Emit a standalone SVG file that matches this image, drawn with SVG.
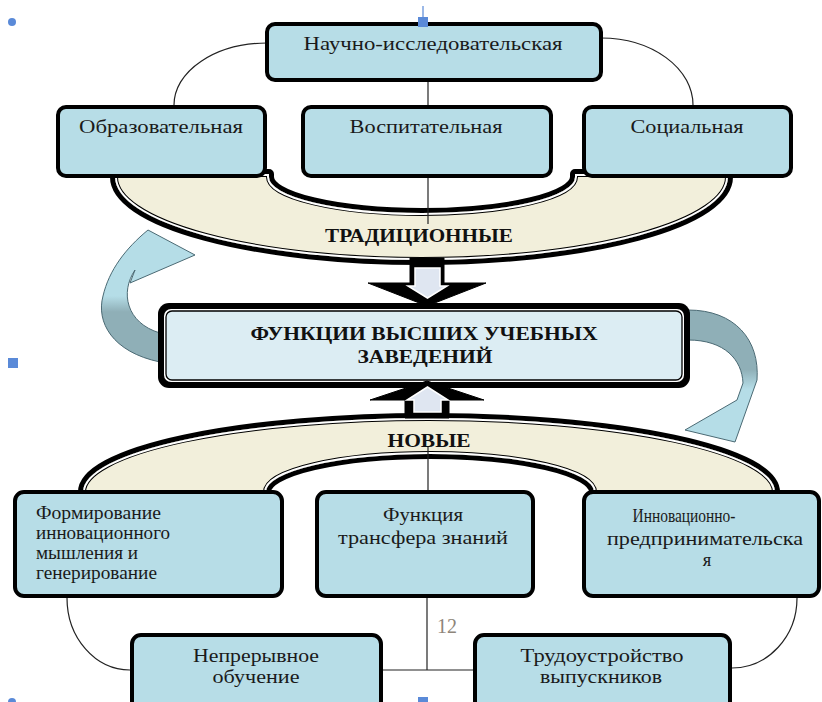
<svg xmlns="http://www.w3.org/2000/svg" width="822" height="702" viewBox="0 0 822 702">
<style>
.box{fill:#b7dde7;stroke:#000;stroke-width:4}
.t{font-family:"Liberation Serif","DejaVu Serif",serif;font-size:18.5px;fill:#1a1a1a;text-anchor:middle}
.tl{font-family:"Liberation Serif","DejaVu Serif",serif;font-size:18.5px;fill:#1a1a1a}
.b{font-family:"Liberation Serif","DejaVu Serif",serif;font-size:19.5px;font-weight:bold;fill:#111;text-anchor:middle}
.ln{fill:none;stroke:#222;stroke-width:1.2}
.mk{fill:#5a8ad8}
.carr{stroke:#4b6a74;stroke-width:1}
</style>
<defs>
<path id="tradP" d="M115,174 L115,177 A306.5,83 0 0 0 728,177 L728,174 L575,174 L575,177 A153,36 0 0 1 269,177 L269,174 Z"/>
<path id="newP" d="M83,494 L83,492 A346,74 0 0 1 775,492 L775,494 L594,494 L594,492 A164,38 0 0 0 266,492 L266,494 Z"/>
<clipPath id="clipTrad"><use href="#tradP"/></clipPath>
<clipPath id="clipNew"><use href="#newP"/></clipPath>
<linearGradient id="gl" gradientUnits="userSpaceOnUse" x1="0" y1="230" x2="0" y2="362">
<stop offset="0" stop-color="#b5dde7"/><stop offset="0.5" stop-color="#b5dde7"/><stop offset="0.62" stop-color="#8fafb7"/><stop offset="1" stop-color="#8fafb7"/>
</linearGradient>
<linearGradient id="gr" gradientUnits="userSpaceOnUse" x1="0" y1="310" x2="0" y2="442">
<stop offset="0" stop-color="#8fafb7"/><stop offset="0.45" stop-color="#8fafb7"/><stop offset="0.6" stop-color="#b5dde7"/><stop offset="1" stop-color="#b5dde7"/>
</linearGradient>
</defs>

<g id="curved-arrows">
<path id="arrow-left" class="carr" fill="url(#gl)" d="M148,230 L195,255 L130,283 L135,270 C120,292 126,323 160,333 L160,362 C112,352 96,322 103,296 C109,270 126,248 148,230 Z"/>
<path id="arrow-right" class="carr" fill="url(#gr)" d="M688,310 C735,310 760,340 757,380 L735,442 L685,430 L737,400 L743,383 C742,360 725,340 688,340 Z"/>
</g>

<g id="band-traditional">
<use href="#tradP" fill="none" stroke="#000" stroke-width="10" stroke-linejoin="round"/>
<use href="#tradP" fill="#f2efdb"/>
<g clip-path="url(#clipTrad)">
<use href="#tradP" fill="none" stroke="#000" stroke-width="6"/>
<use href="#tradP" fill="none" stroke="#fff" stroke-width="4"/>
</g>
</g>

<g id="band-new">
<use href="#newP" fill="none" stroke="#000" stroke-width="10" stroke-linejoin="round"/>
<use href="#newP" fill="#f2efdb"/>
<g clip-path="url(#clipNew)">
<use href="#newP" fill="none" stroke="#000" stroke-width="6"/>
<use href="#newP" fill="none" stroke="#fff" stroke-width="4"/>
</g>
</g>

<g id="connectors">
<path class="ln" d="M267,43 A93,62 0 0 0 174,105"/>
<path class="ln" d="M601,38 A92,67 0 0 1 693,105"/>
<path class="ln" d="M428,82 V105"/>
<path class="ln" d="M428,178 V224"/>
<path class="ln" d="M428,447 V490"/>
<path class="ln" d="M427,598 V670"/>
<path class="ln" d="M383,670 H473"/>
<path class="ln" d="M67,598 A63,72 0 0 0 130,670"/>
<path class="ln" d="M797,598 A65,70 0 0 1 732,668"/>
</g>

<g id="node-research">
<rect class="box" x="267" y="24" width="334" height="56" rx="8"/>
<text class="t" x="433" y="50" textLength="259" lengthAdjust="spacingAndGlyphs">Научно-исследовательская</text>
</g>
<g id="node-educational">
<rect class="box" x="58" y="107" width="207" height="69" rx="8"/>
<text class="t" x="161" y="133" textLength="164" lengthAdjust="spacingAndGlyphs">Образовательная</text>
</g>
<g id="node-upbringing">
<rect class="box" x="303" y="107" width="248" height="69" rx="8"/>
<text class="t" x="426" y="133" textLength="153" lengthAdjust="spacingAndGlyphs">Воспитательная</text>
</g>
<g id="node-social">
<rect class="box" x="584" y="107" width="207" height="69" rx="8"/>
<text class="t" x="687" y="133" textLength="113" lengthAdjust="spacingAndGlyphs">Социальная</text>
</g>

<g id="label-traditional">
<text class="b" x="419" y="242" textLength="188" lengthAdjust="spacingAndGlyphs">ТРАДИЦИОННЫЕ</text>
</g>
<g id="label-new">
<text class="b" x="429" y="447" textLength="83" lengthAdjust="spacingAndGlyphs">НОВЫЕ</text>
</g>

<g id="node-center">
<rect x="158" y="303" width="532" height="85" rx="11" fill="#000"/>
<rect x="164" y="309" width="520" height="73" rx="7" fill="#fff"/>
<rect x="166" y="311" width="516" height="69" rx="6" fill="#dcedf3" stroke="#000" stroke-width="1.3"/>
<text class="b" x="424" y="340" textLength="347" lengthAdjust="spacingAndGlyphs">ФУНКЦИИ ВЫСШИХ УЧЕБНЫХ</text>
<text class="b" x="425" y="363" textLength="135" lengthAdjust="spacingAndGlyphs">ЗАВЕДЕНИЙ</text>
</g>

<g id="block-arrows">
<g id="arrow-down">
<polygon points="410,258 444,258 444,283 486,283 427,306 368,283 410,283" fill="#000" stroke="#000" stroke-width="1" stroke-linejoin="round"/>
<polygon points="415,268 440,268 440,286 447,286 427.5,298 408,286 415,286" fill="#dfe6f1" stroke="#fff" stroke-width="1.5"/>
</g>
<g id="arrow-up">
<polygon points="405,418 449,418 449,400 484,400 427,381 370,400 405,400" fill="#000" stroke="#000" stroke-width="1" stroke-linejoin="round"/>
<polygon points="414,412 441,412 441,400 448,400 427.5,387 407,400 414,400" fill="#dfe6f1" stroke="#fff" stroke-width="1.5"/>
</g>
</g>

<g id="node-innovative-thinking">
<rect class="box" x="15" y="492" width="267" height="104" rx="9"/>
<text class="tl" x="36" y="519" textLength="125" lengthAdjust="spacingAndGlyphs">Формирование</text>
<text class="tl" x="36" y="539" textLength="134" lengthAdjust="spacingAndGlyphs">инновационного</text>
<text class="tl" x="36" y="559" textLength="102" lengthAdjust="spacingAndGlyphs">мышления и</text>
<text class="tl" x="36" y="579" textLength="121" lengthAdjust="spacingAndGlyphs">генерирование</text>
</g>
<g id="node-transfer">
<rect class="box" x="317" y="492" width="216" height="104" rx="9"/>
<text class="t" x="423" y="521" textLength="80" lengthAdjust="spacingAndGlyphs">Функция</text>
<text class="t" x="423" y="544" textLength="170" lengthAdjust="spacingAndGlyphs">трансфера знаний</text>
</g>
<g id="node-entrepreneurial">
<rect class="box" x="584" y="492" width="235" height="104" rx="9"/>
<text class="t" x="684" y="522" textLength="103" lengthAdjust="spacingAndGlyphs">Инновационно-</text>
<text class="t" x="705" y="545" textLength="196" lengthAdjust="spacingAndGlyphs">предпринимательска</text>
<text class="t" x="707" y="566">я</text>
</g>
<g id="node-continuous">
<rect class="box" x="132" y="635" width="249" height="80" rx="9"/>
<text class="t" x="256" y="662" textLength="126" lengthAdjust="spacingAndGlyphs">Непрерывное</text>
<text class="t" x="256" y="683" textLength="87" lengthAdjust="spacingAndGlyphs">обучение</text>
</g>
<g id="node-employment">
<rect class="box" x="475" y="635" width="255" height="80" rx="9"/>
<text class="t" x="602" y="662" textLength="163" lengthAdjust="spacingAndGlyphs">Трудоустройство</text>
<text class="t" x="601" y="683" textLength="122" lengthAdjust="spacingAndGlyphs">выпускников</text>
</g>

<text x="437" y="633" font-family="Liberation Serif, serif" font-size="20" fill="#8e857a">12</text>

<g id="handles">
<circle class="mk" cx="12" cy="22" r="4"/>
<line x1="423" y1="6" x2="423" y2="17" stroke="#5a8ad8" stroke-width="1.2"/>
<rect class="mk" x="418" y="17" width="10" height="10"/>
<rect class="mk" x="8" y="358" width="10" height="10"/>
<circle class="mk" cx="12" cy="702" r="4"/>
<rect class="mk" x="418" y="697" width="10" height="10"/>
</g>
</svg>
